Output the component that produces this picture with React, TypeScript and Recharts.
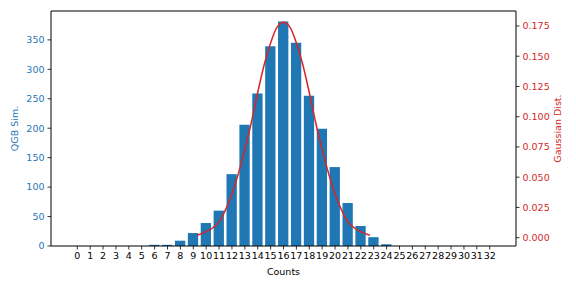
import React from 'react';
import { ComposedChart, Bar, Line, XAxis, YAxis, ReferenceLine } from 'recharts';

const countValues: number[] = [0, 0, 0, 0, 0, 0, 2, 2, 9, 22, 39, 60, 122, 206, 259, 339, 381, 345, 255, 199, 134, 73, 34, 15, 3, 0, 0, 0, 0, 0, 0, 0, 0];
const countTicks: number[] = countValues.map((_, i) => i);
const gaussX: number[] = [9.3, 10, 10.5, 11, 11.5, 12, 12.5, 13, 13.5, 14, 14.5, 15, 15.5, 16, 16.5, 17, 17.5, 18, 18.5, 19, 19.5, 20, 20.5, 21, 21.5, 22, 22.7];
const gaussY: number[] = [0.002, 0.005, 0.008, 0.013, 0.023, 0.036, 0.053, 0.073, 0.095, 0.120, 0.143, 0.161, 0.174, 0.178, 0.174, 0.161, 0.143, 0.120, 0.095, 0.073, 0.053, 0.036, 0.023, 0.013, 0.008, 0.005, 0.002];
const leftTicks: number[] = [0, 50, 100, 150, 200, 250, 300, 350];
const rightTicks: number[] = [0, 0.025, 0.05, 0.075, 0.1, 0.125, 0.15, 0.175];

const barData = countValues.map((v, i) => ({ x: countTicks[i], count: v }));
const lineData = gaussX.map((x, i) => ({ x, g: gaussY[i] }));

const BLUE = '#1f77b4';
const RED = '#d62728';
const FONT = 'DejaVu Sans, sans-serif';
const FS = 9.5;
const X_DOMAIN: [number, number] = [-2.04, 34.04];

export default function App() {
  return (
    <div style={{ position: 'absolute', left: 0, top: 0, fontFamily: FONT }}>
      <ComposedChart
        width={576}
        height={288}
        data={barData}
        margin={{ top: 11, right: 0, bottom: 0, left: 0 }}
        style={{ fontFamily: FONT }}
      >
        <XAxis
          dataKey="x"
          type="number"
          domain={X_DOMAIN}
          allowDataOverflow
          ticks={countTicks}
          interval={0}
          height={42}
          tickSize={3.5}
          tickMargin={3}
          axisLine={{ stroke: '#000', strokeWidth: 1 }}
          tickLine={{ stroke: '#000', strokeWidth: 0.8 }}
          tick={{ fill: '#000', fontSize: FS }}
          label={{ value: 'Counts', position: 'insideBottom', offset: 13, fill: '#000', fontSize: FS }}
        />
        <XAxis xAxisId="g" dataKey="x" type="number" domain={X_DOMAIN} allowDataOverflow hide />
        <YAxis
          yAxisId="left"
          orientation="left"
          width={51}
          domain={[0, 399]}
          allowDataOverflow
          ticks={leftTicks}
          interval={0}
          tickSize={3.5}
          tickMargin={3}
          axisLine={{ stroke: '#000', strokeWidth: 1 }}
          tickLine={{ stroke: '#000', strokeWidth: 0.8 }}
          tick={{ fill: BLUE, fontSize: FS }}
          label={{ value: 'QGB Sim.', angle: -90, position: 'center', dx: -10.5, fill: BLUE, fontSize: FS }}
        />
        <YAxis
          yAxisId="right"
          orientation="right"
          width={60}
          domain={[-0.0069, 0.1874]}
          allowDataOverflow
          ticks={rightTicks}
          interval={0}
          tickSize={3.5}
          tickMargin={3}
          tickFormatter={(v: number) => v.toFixed(3)}
          axisLine={{ stroke: '#000', strokeWidth: 1 }}
          tickLine={{ stroke: '#000', strokeWidth: 0.8 }}
          tick={{ fill: RED, fontSize: FS }}
          label={{ value: 'Gaussian Dist.', angle: -90, position: 'center', dx: 12, fill: RED, fontSize: FS }}
        />
        <ReferenceLine yAxisId="left" y={399} stroke="#000" strokeWidth={1} ifOverflow="extendDomain" />
        <Bar yAxisId="left" dataKey="count" fill={BLUE} barSize={10.3} isAnimationActive={false} />
        <Line
          xAxisId="g"
          yAxisId="right"
          data={lineData}
          dataKey="g"
          type="monotone"
          stroke={RED}
          strokeWidth={1.5}
          dot={false}
          activeDot={false}
          isAnimationActive={false}
        />
      </ComposedChart>
    </div>
  );
}
